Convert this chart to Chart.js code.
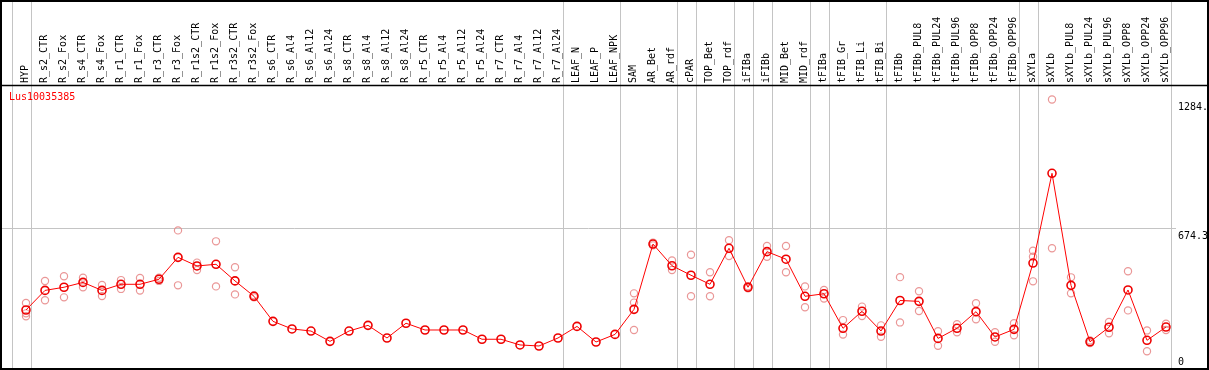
<!DOCTYPE html>
<html>
<head>
<meta charset="utf-8">
<script src="https://cdn.jsdelivr.net/npm/chart.js@4"></script>
<style>
  html, body { margin: 0; padding: 0; background: #fff; }
  #wrap { width: 1209px; height: 370px; }
</style>
</head>
<body>
<div id="wrap"><canvas id="geneChart" width="1209" height="370"></canvas></div>
<script>
const geneName = "Lus10035385";

const categories = [
    "HYP", "R_s2_CTR", "R_s2_Fox", "R_s4_CTR", "R_s4_Fox", "R_r1_CTR", "R_r1_Fox", "R_r3_CTR", "R_r3_Fox",
    "R_r1s2_CTR", "R_r1s2_Fox", "R_r3s2_CTR", "R_r3s2_Fox", "R_s6_CTR", "R_s6_Al4", "R_s6_Al12", "R_s6_Al24",
    "R_s8_CTR", "R_s8_Al4", "R_s8_Al12", "R_s8_Al24", "R_r5_CTR", "R_r5_Al4", "R_r5_Al12", "R_r5_Al24",
    "R_r7_CTR", "R_r7_Al4", "R_r7_Al12", "R_r7_Al24", "LEAF_N", "LEAF_P", "LEAF_NPK", "SAM", "AR_Bet", "AR_rdf",
    "cPAR", "TOP_Bet", "TOP_rdf", "iFIBa", "iFIBb", "MID_Bet", "MID_rdf", "tFIBa", "tFIB_Gr", "tFIB_Li", "tFIB_Bi",
    "tFIBb", "tFIBb_PUL8", "tFIBb_PUL24", "tFIBb_PUL96", "tFIBb_OPP8", "tFIBb_OPP24", "tFIBb_OPP96",
    "sXYLa", "sXYLb", "sXYLb_PUL8", "sXYLb_PUL24", "sXYLb_PUL96", "sXYLb_OPP8", "sXYLb_OPP24", "sXYLb_OPP96"
];

// mean expression per sample
const meanValues = [
    285, 378, 393, 416, 378, 407, 407, 431, 535, 494, 502, 423, 350, 231, 195, 185, 136,
    185, 212, 152, 222, 190, 190, 190, 146, 146, 119, 114, 152, 207, 133, 169,
    288, 598, 495, 450, 407, 578, 393, 562, 526, 350, 362, 198, 279, 185,
    330, 326, 150, 198, 277, 157, 193, 508, 934, 402, 134, 203, 380, 141, 204
];

// individual replicates (null = hidden behind the mean)
const rep1 = [
    318, 423, 445, 438, 404, 427, 437, 438, 663, 510, 611, 488, 355, null, null, null, null,
    null, null, null, null, null, null, null, null, null, null, null, null, null, null, null,
    364, 605, 520, 547, 464, 616, 398, 589, 589, 397, 380, 237, 301, 212,
    441, 374, 184, 217, 317, 179, 222, 566, 1284.6, 440, 140, 228, 469, 188, 220
];
const rep2 = [
    255, 331, 345, 393, 351, 385, 377, 423, 402, 475, 397, 359, 345, null, null, null, null,
    null, null, null, null, null, null, null, null, null, null, null, null, null, null, null,
    190, 592, 475, 350, 350, 541, 388, 538, 464, 298, 339, 168, 256, 158,
    226, 280, 115, 179, 241, 134, 165, 421, 578, 364, 128, 174, 283, 89, 190
];
const rep3 = [
    269, null, null, null, null, null, null, null, null, null, null, null, null, null, null, null, null,
    null, null, null, null, null, null, null, null, null, null, null, null, null, null, null,
    320, null, null, null, null, null, null, null, null, null, null, null, null, null,
    null, null, null, null, null, null, null, 538, null, null, null, null, null, null, null
];

const yTicks = [0, 674.3, 1284.6];
const yTickLabels = ["0", "674.3", "1284."];
const yMax = 1348.6;

// sample groups end after these indices
const groupEnds = [-1, 0, 28, 31, 34, 35, 37, 38, 39, 41, 42, 45, 52, 53, 60];

const monoFont = "10px 'DejaVu Sans Mono', monospace";

const toPoints = arr => arr.map((v, i) => ({ x: i, y: v })).filter(p => p.y !== null);
const replicatePoints = [].concat(toPoints(rep1), toPoints(rep2), toPoints(rep3));

const framePlugin = {
    id: "frame",
    beforeDatasetsDraw(chart) {
        const ctx = chart.ctx;
        const xs = chart.scales.x;
        const ys = chart.scales.y;
        ctx.save();
        ctx.strokeStyle = "#c4c4c4";
        ctx.lineWidth = 1;
        // mid grid line
        const gy = Math.round(ys.getPixelForValue(yTicks[1])) + 0.5;
        ctx.beginPath();
        ctx.moveTo(1, gy);
        ctx.lineTo(1176, gy);
        ctx.stroke();
        // group separators
        groupEnds.forEach(g => {
            const px = Math.round(xs.getPixelForValue(g + 0.24)) + 0.5;
            ctx.beginPath();
            ctx.moveTo(px, 0);
            ctx.lineTo(px, 370);
            ctx.stroke();
        });
        ctx.restore();
    },
    afterDraw(chart) {
        const ctx = chart.ctx;
        const xs = chart.scales.x;
        const ys = chart.scales.y;
        ctx.save();
        // frame
        ctx.strokeStyle = "#000";
        ctx.lineWidth = 2;
        ctx.strokeRect(1, 1, 1207, 368);
        ctx.beginPath();
        ctx.moveTo(1, 85.5);
        ctx.lineTo(1208, 85.5);
        ctx.lineWidth = 1.5;
        ctx.stroke();

        // sample labels
        ctx.font = monoFont;
        ctx.fillStyle = "#000";
        ctx.textAlign = "left";
        ctx.textBaseline = "middle";
        categories.forEach((c, i) => {
            const px = xs.getPixelForValue(i) - 1;
            ctx.save();
            ctx.translate(px, 83);
            ctx.rotate(-Math.PI / 2);
            ctx.fillText(c, 0, 0);
            ctx.restore();
        });

        // gene name
        ctx.fillStyle = "#ff0000";
        ctx.fillText(geneName, 9, 97);

        // value labels
        ctx.fillStyle = "#000";
        ctx.textBaseline = "top";
        yTicks.forEach((v, i) => {
            const py = Math.min(ys.getPixelForValue(v) + 3, 357);
            ctx.fillText(yTickLabels[i], 1178, py);
        });
        ctx.restore();
    }
};

new Chart(document.getElementById("geneChart").getContext("2d"), {
    type: "line",
    data: {
        datasets: [{
            label: geneName,
            data: toPoints(meanValues),
            borderColor: "#ff0000",
            borderWidth: 1,
            pointRadius: 4,
            pointBorderWidth: 1.6,
            pointBorderColor: "#ee0000",
            pointBackgroundColor: "rgba(0,0,0,0)",
            tension: 0,
            order: 0
        }, {
            label: "replicates",
            data: replicatePoints,
            showLine: false,
            pointRadius: 3.6,
            pointBorderWidth: 1.2,
            pointBorderColor: "rgba(232,140,140,0.9)",
            pointBackgroundColor: "rgba(0,0,0,0)",
            order: 1
        }]
    },
    options: {
        responsive: false,
        animation: false,
        devicePixelRatio: 1,
        layout: { autoPadding: false, padding: { top: 86, left: 0, right: 0, bottom: 0 } },
        plugins: { legend: { display: false }, tooltip: { enabled: false } },
        scales: {
            x: { type: "linear", display: false, min: -26 / 19, max: (1209 - 26) / 19 },
            y: { type: "linear", display: false, min: 0, max: yMax }
        }
    },
    plugins: [framePlugin]
});
</script>
</body>
</html>
